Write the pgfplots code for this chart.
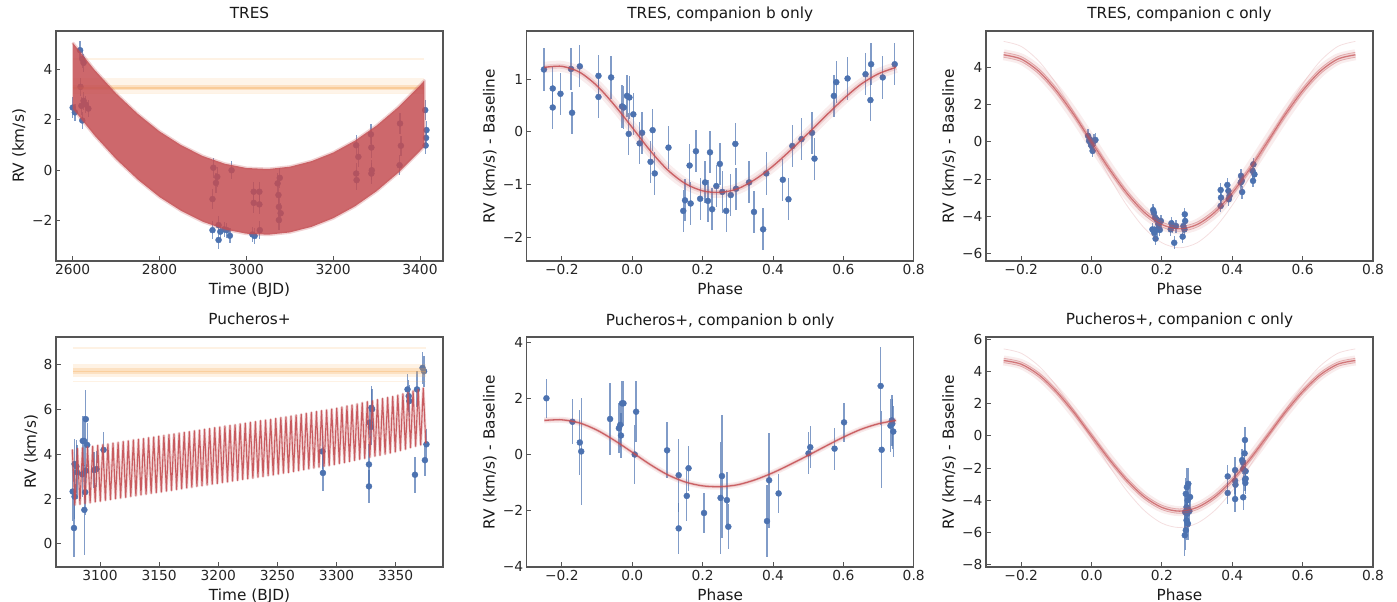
\documentclass[border=0pt]{standalone}
\usepackage{fontspec}
\setmainfont{DejaVu Sans}
\usepackage{pgfplots}
\usepackage{pgfplotstable}
\pgfplotsset{compat=1.18}

\definecolor{dblue}{RGB}{76,114,176}
\definecolor{dred}{RGB}{196,78,82}
\definecolor{dorange}{RGB}{245,165,75}
\definecolor{fgray}{RGB}{85,85,85}

\newcommand{\ticksize}{\fontsize{13.8}{16}\selectfont}
\newcommand{\labsize}{\fontsize{15.3}{18}\selectfont}

\pgfplotsset{
 rv/.style={
  scale only axis, width=387pt, height=230pt, anchor=south west,
  clip marker paths=true,
  axis line style={fgray, line width=1.1pt},
  tick align=inside, tick pos=left,
  major tick length=4.5pt,
  every tick/.style={fgray, line width=0.9pt},
  tick label style={font=\ticksize, text=black!85},
  title style={font=\labsize, text=black!90, at={(axis description cs:0.5,1)}, anchor=base, yshift=6pt},
  xlabel style={font=\labsize, text=black!90, at={(axis description cs:0.5,0)}, anchor=base, yshift=-33.5pt},
  ylabel style={font=\labsize, text=black!90, at={(axis description cs:-0.083,0.5)}, anchor=base},
  scaled ticks=false,
 },
 pts/.style={only marks, mark=*, mark size=3pt, color=dblue, mark options={fill=dblue, draw=dblue},
   error bars/.cd, y dir=both, y explicit, error mark=none,
   error bar style={line width=1.3pt, color=dblue, opacity=0.7}},
}

% ---------------- TRES time series ----------------
\pgfplotstableread[row sep=\\]{
t v e\\
2600 2.48 0.40\\
2605 2.29 0.35\\
2617 4.75 0.35\\
2622 4.40 0.35\\
2625 4.25 0.35\\
2618 3.30 0.35\\
2620 2.55 0.35\\
2622 1.97 0.35\\
2625 2.75 0.35\\
2630 2.60 0.35\\
2636 2.44 0.35\\
2922 -2.37 0.35\\
2936 -2.17 0.35\\
2936 -2.76 0.35\\
2940 -2.43 0.35\\
2949 -2.34 0.30\\
2955 -2.37 0.30\\
2962 -2.59 0.30\\
2924 0.10 0.40\\
2933 -0.26 0.40\\
2930 -0.50 0.40\\
2922 -1.14 0.40\\
2966 0.00 0.35\\
3014 -2.54 0.30\\
3019 -2.60 0.30\\
3017 -1.29 0.40\\
3017 -0.85 0.40\\
3030 -0.85 0.40\\
3030 -1.35 0.40\\
3031 -2.37 0.35\\
3072 -0.52 0.40\\
3074 -0.98 0.40\\
3077 -0.30 0.40\\
3075 -1.45 0.40\\
3079 -1.70 0.40\\
3075 -1.97 0.40\\
3253 0.99 0.40\\
3258 0.53 0.40\\
3253 -0.13 0.40\\
3254 -0.39 0.40\\
3287 1.42 0.40\\
3288 0.90 0.40\\
3289 0.00 0.40\\
3288 -0.13 0.40\\
3354 1.85 0.40\\
3356 0.97 0.40\\
3353 0.20 0.40\\
3412 2.38 0.40\\
3415 1.59 0.35\\
3414 1.28 0.35\\
3413 0.98 0.35\\
}\tresdata

% ---------------- Pucheros time series ----------------
\pgfplotstableread[row sep=\\]{
t v e\\
3076.9 2.33 1.30\\
3078.0 0.70 1.30\\
3078.5 3.56 1.10\\
3080.0 3.45 1.20\\
3080.5 3.19 1.20\\
3078.5 2.10 1.00\\
3085.4 4.59 1.10\\
3086.5 4.59 1.10\\
3085.0 3.10 1.00\\
3086.8 1.51 2.00\\
3088.0 5.56 1.30\\
3089.2 4.41 1.00\\
3087.5 2.30 1.00\\
3088.0 3.26 1.00\\
3095.0 3.29 0.80\\
3097.0 3.33 0.80\\
3103.0 4.19 0.80\\
3288.0 4.12 0.80\\
3288.5 3.16 0.80\\
3327.4 3.54 0.90\\
3327.4 2.56 0.75\\
3328.0 5.41 0.70\\
3329.0 5.21 0.80\\
3329.5 6.07 0.95\\
3330.0 6.00 0.90\\
3360.0 6.89 0.70\\
3361.0 6.59 0.70\\
3361.5 6.37 0.70\\
3366.3 3.08 0.80\\
3368.0 6.89 0.80\\
3372.7 7.85 0.70\\
3374.0 7.70 0.70\\
3374.7 3.73 0.70\\
3376.0 4.44 0.70\\
}\pucdata

\pgfplotstableread[row sep=\\]{
t v\\
3076.60 4.21\\ 3078.75 1.73\\ 3080.90 4.25\\ 3083.05 1.76\\ 3085.20 4.28\\
3087.35 1.80\\ 3089.50 4.32\\ 3091.65 1.83\\ 3093.80 4.35\\ 3095.95 1.87\\
3098.10 4.39\\ 3100.25 1.90\\ 3102.40 4.42\\ 3104.55 1.94\\ 3106.70 4.45\\
3108.85 1.97\\ 3111.00 4.49\\ 3113.15 2.01\\ 3115.30 4.52\\ 3117.45 2.04\\
3119.60 4.56\\ 3121.75 2.07\\ 3123.90 4.59\\ 3126.05 2.11\\ 3128.20 4.63\\
3130.35 2.14\\ 3132.50 4.66\\ 3134.65 2.18\\ 3136.80 4.69\\ 3138.95 2.21\\
3141.10 4.73\\ 3143.25 2.25\\ 3145.40 4.76\\ 3147.55 2.28\\ 3149.70 4.80\\
3151.85 2.31\\ 3154.00 4.83\\ 3156.15 2.35\\ 3158.30 4.87\\ 3160.45 2.38\\
3162.60 4.90\\ 3164.75 2.42\\ 3166.90 4.94\\ 3169.05 2.45\\ 3171.20 4.97\\
3173.35 2.49\\ 3175.50 5.00\\ 3177.65 2.52\\ 3179.80 5.04\\ 3181.95 2.56\\
3184.10 5.07\\ 3186.25 2.59\\ 3188.40 5.11\\ 3190.55 2.62\\ 3192.70 5.14\\
3194.85 2.66\\ 3197.00 5.18\\ 3199.15 2.69\\ 3201.30 5.21\\ 3203.45 2.73\\
3205.60 5.25\\ 3207.75 2.76\\ 3209.90 5.28\\ 3212.05 2.80\\ 3214.20 5.31\\
3216.35 2.83\\ 3218.50 5.35\\ 3220.65 2.87\\ 3222.80 5.38\\ 3224.95 2.90\\
3227.10 5.42\\ 3229.25 2.93\\ 3231.40 5.45\\ 3233.55 2.97\\ 3235.70 5.49\\
3237.85 3.00\\ 3240.00 5.52\\ 3242.15 3.04\\ 3244.30 5.55\\ 3246.45 3.07\\
3248.60 5.59\\ 3250.75 3.11\\ 3252.90 5.63\\ 3255.05 3.15\\ 3257.20 5.66\\
3259.35 3.18\\ 3261.50 5.70\\ 3263.65 3.22\\ 3265.80 5.74\\ 3267.95 3.26\\
3270.10 5.78\\ 3272.25 3.30\\ 3274.40 5.82\\ 3276.55 3.34\\ 3278.70 5.86\\
3280.85 3.38\\ 3283.00 5.90\\ 3285.15 3.42\\ 3287.30 5.94\\ 3289.45 3.46\\
3291.60 5.97\\ 3293.75 3.49\\ 3295.90 6.01\\ 3298.05 3.53\\ 3300.20 6.05\\
3302.35 3.58\\ 3304.50 6.10\\ 3306.65 3.62\\ 3308.80 6.15\\ 3310.95 3.67\\
3313.10 6.19\\ 3315.25 3.72\\ 3317.40 6.24\\ 3319.55 3.77\\ 3321.70 6.29\\
3323.85 3.81\\ 3326.00 6.34\\ 3328.15 3.86\\ 3330.30 6.38\\ 3332.45 3.91\\
3334.60 6.43\\ 3336.75 3.95\\ 3338.90 6.48\\ 3341.05 4.00\\ 3343.20 6.53\\
3345.35 4.05\\ 3347.50 6.57\\ 3349.65 4.10\\ 3351.80 6.63\\ 3353.95 4.16\\
3356.10 6.69\\ 3358.25 4.22\\ 3360.40 6.75\\ 3362.55 4.29\\ 3364.70 6.82\\
3366.85 4.35\\ 3369.00 6.88\\ 3371.15 4.41\\ 3373.30 6.95\\ 3375.45 4.48\\
}\puczz

% ---------------- phase curves ----------------
\pgfplotstableread[row sep=\\]{
p v\\
-0.25 1.22\\ -0.20 1.24\\ -0.15 1.13\\ -0.10 0.87\\ -0.05 0.50\\
0.00 0.08\\ 0.05 -0.35\\ 0.10 -0.72\\ 0.15 -0.98\\ 0.20 -1.12\\
0.25 -1.15\\ 0.30 -1.08\\ 0.35 -0.90\\ 0.40 -0.65\\ 0.45 -0.35\\
0.50 -0.03\\ 0.55 0.30\\ 0.60 0.62\\ 0.65 0.90\\ 0.70 1.10\\ 0.75 1.22\\
}\bcurve

\pgfplotstableread[row sep=\\]{
p v\\
-0.25 4.68\\ -0.20 4.45\\ -0.15 3.79\\ -0.10 2.75\\ -0.05 1.45\\
0.00 0.00\\ 0.05 -1.45\\ 0.10 -2.75\\ 0.15 -3.79\\ 0.20 -4.45\\
0.25 -4.68\\ 0.30 -4.45\\ 0.35 -3.79\\ 0.40 -2.75\\ 0.45 -1.45\\
0.50 0.00\\ 0.55 1.45\\ 0.60 2.75\\ 0.65 3.79\\ 0.70 4.45\\ 0.75 4.68\\
}\ccurve

\pgfplotstableread[row sep=\\]{
p v\\
-0.25 5.40\\ -0.20 5.13\\ -0.15 4.34\\ -0.10 3.11\\ -0.05 1.57\\
0.00 -0.15\\ 0.05 -1.87\\ 0.10 -3.41\\ 0.15 -4.64\\ 0.20 -5.43\\
0.25 -5.70\\ 0.30 -5.43\\ 0.35 -4.64\\ 0.40 -3.41\\ 0.45 -1.87\\
0.50 -0.15\\ 0.55 1.57\\ 0.60 3.11\\ 0.65 4.34\\ 0.70 5.13\\ 0.75 5.40\\
}\cfaint

% ---------------- phase data ----------------
\pgfplotstableread[row sep=\\]{
p v e\\
-0.251 1.18 0.40\\
-0.226 0.82 0.40\\
-0.226 0.46 0.40\\
-0.204 0.72 0.40\\
-0.174 1.19 0.40\\
-0.171 0.36 0.40\\
-0.149 1.24 0.40\\
-0.096 1.06 0.40\\
-0.096 0.66 0.40\\
-0.060 1.03 0.40\\
-0.029 0.48 0.40\\
-0.024 0.46 0.40\\
-0.015 0.68 0.40\\
-0.008 0.65 0.40\\
-0.010 -0.04 0.40\\
0.003 0.33 0.40\\
0.021 -0.22 0.40\\
0.028 -0.02 0.40\\
0.052 -0.57 0.40\\
0.058 0.03 0.40\\
0.064 -0.79 0.40\\
0.103 -0.30 0.40\\
0.145 -1.50 0.40\\
0.150 -1.30 0.40\\
0.163 -0.64 0.40\\
0.166 -1.36 0.40\\
0.181 -0.37 0.40\\
0.193 -1.27 0.40\\
0.207 -0.96 0.40\\
0.215 -1.31 0.40\\
0.221 -0.39 0.40\\
0.227 -1.47 0.40\\
0.239 -1.03 0.40\\
0.249 -0.61 0.40\\
0.256 -1.14 0.40\\
0.267 -1.50 0.40\\
0.280 -1.20 0.40\\
0.293 -0.23 0.40\\
0.295 -1.08 0.40\\
0.332 -0.96 0.40\\
0.346 -1.52 0.40\\
0.372 -1.85 0.40\\
0.381 -0.79 0.40\\
0.428 -0.91 0.40\\
0.444 -1.28 0.40\\
0.455 -0.27 0.40\\
0.481 -0.14 0.40\\
0.511 -0.02 0.40\\
0.518 -0.51 0.40\\
0.573 0.68 0.40\\
0.580 0.94 0.40\\
0.612 1.01 0.40\\
0.663 1.09 0.40\\
0.677 0.60 0.40\\
0.679 1.28 0.40\\
0.712 1.03 0.40\\
0.746 1.28 0.40\\
}\tresb

\pgfplotstableread[row sep=\\]{
p v e\\
-0.010 0.32 0.35\\
-0.005 0.14 0.35\\
0.000 -0.22 0.35\\
0.003 -0.49 0.35\\
-0.007 0.05 0.35\\
0.007 0.05 0.35\\
0.011 0.10 0.35\\
-0.002 -0.08 0.35\\
0.175 -3.67 0.35\\
0.177 -3.81 0.35\\
0.181 -4.08 0.35\\
0.173 -4.71 0.35\\
0.178 -4.89 0.35\\
0.182 -5.21 0.35\\
0.186 -4.71 0.35\\
0.190 -4.44 0.35\\
0.194 -4.74 0.35\\
0.197 -4.26 0.35\\
0.185 -4.17 0.35\\
0.225 -4.71 0.35\\
0.230 -4.53 0.35\\
0.235 -5.43 0.35\\
0.240 -4.53 0.35\\
0.227 -4.38 0.35\\
0.259 -5.10 0.35\\
0.264 -4.71 0.35\\
0.266 -4.26 0.35\\
0.265 -3.90 0.35\\
0.261 -4.53 0.35\\
0.367 -2.59 0.35\\
0.368 -3.00 0.35\\
0.367 -3.45 0.35\\
0.386 -2.32 0.35\\
0.389 -2.64 0.35\\
0.390 -3.09 0.35\\
0.392 -2.91 0.35\\
0.425 -1.83 0.35\\
0.427 -2.10 0.35\\
0.428 -2.70 0.35\\
0.424 -2.19 0.35\\
0.460 -1.21 0.35\\
0.458 -1.57 0.35\\
0.463 -1.75 0.35\\
0.459 -2.10 0.35\\
}\tresc

\pgfplotstableread[row sep=\\]{
p v e\\
-0.244 2.01 0.70\\
-0.170 1.17 0.80\\
-0.149 0.43 1.15\\
-0.145 0.11 1.90\\
-0.063 1.27 1.30\\
-0.038 0.94 0.90\\
-0.034 1.06 0.80\\
-0.032 0.68 0.80\\
-0.029 1.83 0.80\\
-0.025 1.83 0.80\\
0.007 0.00 1.05\\
0.011 1.53 1.10\\
0.099 0.15 1.00\\
0.132 -0.74 1.30\\
0.132 -2.64 0.90\\
0.155 -1.48 0.90\\
0.160 -0.49 0.80\\
0.204 -2.09 0.70\\
0.251 -1.55 2.00\\
0.255 -0.77 2.20\\
0.269 -1.63 1.00\\
0.273 -2.58 0.80\\
0.383 -2.38 1.30\\
0.389 -0.92 1.70\\
0.416 -1.39 0.70\\
0.501 0.04 0.75\\
0.506 0.26 0.75\\
0.575 0.21 0.75\\
0.602 1.15 0.70\\
0.706 2.45 1.38\\
0.709 0.17 1.37\\
0.734 1.03 0.95\\
0.738 1.22 0.90\\
0.742 0.82 0.90\\
0.739 1.10 0.90\\
}\pucb

\pgfplotstableread[row sep=\\]{
p v e\\
0.265 -6.18 1.30\\
0.268 -5.87 1.20\\
0.270 -5.25 1.20\\
0.272 -4.84 1.00\\
0.270 -4.43 1.00\\
0.273 -4.01 1.00\\
0.268 -3.60 1.00\\
0.271 -3.19 1.20\\
0.275 -2.98 1.00\\
0.280 -3.80 0.90\\
0.278 -4.68 1.00\\
0.266 -4.74 1.00\\
0.274 -5.46 1.00\\
0.387 -2.52 0.70\\
0.387 -3.55 0.70\\
0.408 -2.13 0.80\\
0.408 -2.79 0.80\\
0.409 -3.04 0.80\\
0.408 -3.93 0.80\\
0.428 -1.51 0.70\\
0.430 -1.65 0.70\\
0.435 -1.09 0.70\\
0.436 -0.26 0.80\\
0.431 -2.06 0.70\\
0.436 -2.72 0.70\\
0.437 -2.93 0.70\\
0.438 -2.66 0.70\\
0.431 -3.82 0.80\\
0.438 -2.20 0.70\\
}\pucc

\begin{document}
\begin{tikzpicture}
\useasboundingbox (0,0) rectangle (1397pt,602pt);

% ===== TRES =====
\begin{axis}[rv, at={(56pt,341pt)},
  xmin=2561.5, xmax=3453, ymin=-3.59, ymax=5.51,
  xtick={2600,2800,3000,3200,3400}, xticklabels={2600,2800,3000,3200,3400},
  ytick={-2,0,2,4}, yticklabels={−2,0,2,4},
  title={TRES}, xlabel={Time (BJD)}, ylabel={RV (km/s)}]
\addplot[pts] table[x=t, y=v, y error=e] {\tresdata};
\addplot[dorange, line width=15pt, opacity=0.12] coordinates {(2600,3.36) (3410,3.36)};
\addplot[dorange, line width=5pt, opacity=0.25] coordinates {(2600,3.27) (3410,3.27)};
\addplot[dorange, line width=1.5pt, opacity=0.35] coordinates {(2600,3.25) (3410,3.25)};
\addplot[dorange, line width=1.2pt, opacity=0.15] coordinates {(2600,4.40) (3410,4.40)};
\addplot[dorange, line width=1.2pt, opacity=0.15] coordinates {(2600,3.04) (3410,3.04)};
\addplot[draw=dred, draw opacity=0.25, line width=3pt, line join=round, fill=dred, fill opacity=0.85] coordinates {
 (2600,5.05) (2650,3.98) (2700,3.04) (2750,2.23) (2800,1.54) (2850,0.99) (2900,0.56) (2950,0.26)
 (3000,0.09) (3050,0.05) (3100,0.14) (3150,0.36) (3200,0.70) (3250,1.17) (3300,1.77) (3350,2.50)
 (3400,3.36) (3410,3.55)
 (3410,0.95) (3400,0.76) (3350,-0.10) (3300,-0.83) (3250,-1.43) (3200,-1.90) (3150,-2.24) (3100,-2.46)
 (3050,-2.55) (3000,-2.51) (2950,-2.34) (2900,-2.04) (2850,-1.61) (2800,-1.06) (2750,-0.37) (2700,0.44)
 (2650,1.38) (2600,2.45)};
\end{axis}

% ===== TRES b =====
\begin{axis}[rv, at={(526.7pt,341pt)},
  xmin=-0.3, xmax=0.8, ymin=-2.45, ymax=1.91,
  xtick={-0.2,0,0.2,0.4,0.6,0.8}, xticklabels={−0.2,0.0,0.2,0.4,0.6,0.8},
  ytick={-2,-1,0,1}, yticklabels={−2,−1,0,1},
  title={TRES, companion b only}, xlabel={Phase}, ylabel={RV (km/s) - Baseline}]
\addplot[pts] table[x=p, y=v, y error=e] {\tresb};
\addplot[dred, line width=11pt, opacity=0.10, smooth] table[x=p, y=v] {\bcurve};
\addplot[dred, line width=5pt, opacity=0.18, smooth] table[x=p, y=v] {\bcurve};
\addplot[dred, line width=1.4pt, opacity=0.85, smooth] table[x=p, y=v] {\bcurve};
\end{axis}

% ===== TRES c =====
\begin{axis}[rv, at={(986pt,341pt)},
  xmin=-0.3, xmax=0.8, ymin=-6.41, ymax=5.96,
  xtick={-0.2,0,0.2,0.4,0.6,0.8}, xticklabels={−0.2,0.0,0.2,0.4,0.6,0.8},
  ytick={-6,-4,-2,0,2,4}, yticklabels={−6,−4,−2,0,2,4},
  title={TRES, companion c only}, xlabel={Phase}, ylabel={RV (km/s) - Baseline}]
\addplot[pts] table[x=p, y=v, y error=e] {\tresc};
\addplot[dred, line width=0.8pt, opacity=0.18, smooth] table[x=p, y=v] {\cfaint};
\addplot[dred, line width=11pt, opacity=0.10, smooth] table[x=p, y=v] {\ccurve};
\addplot[dred, line width=5pt, opacity=0.15, smooth] table[x=p, y=v] {\ccurve};
\addplot[dred, line width=0.8pt, opacity=0.35, smooth, yshift=2.5pt] table[x=p, y=v] {\ccurve};
\addplot[dred, line width=0.8pt, opacity=0.35, smooth, yshift=-2.5pt] table[x=p, y=v] {\ccurve};
\addplot[dred, line width=1.3pt, opacity=0.7, smooth] table[x=p, y=v] {\ccurve};
\end{axis}

% ===== Pucheros+ =====
\begin{axis}[rv, at={(56pt,35pt)},
  xmin=3062.8, xmax=3390, ymin=-1.04, ymax=9.23,
  xtick={3100,3150,3200,3250,3300,3350}, xticklabels={3100,3150,3200,3250,3300,3350},
  ytick={0,2,4,6,8}, yticklabels={0,2,4,6,8},
  ylabel style={at={(axis description cs:-0.0517,0.5)}},
  title={Pucheros+}, xlabel={Time (BJD)}, ylabel={RV (km/s)}]
\addplot[pts] table[x=t, y=v, y error=e] {\pucdata};
\addplot[dorange, line width=13pt, opacity=0.15] coordinates {(3077,7.73) (3376,7.73)};
\addplot[dorange, line width=6pt, opacity=0.22] coordinates {(3077,7.72) (3376,7.72)};
\addplot[dorange, line width=1.5pt, opacity=0.3] coordinates {(3077,7.68) (3376,7.68)};
\addplot[dorange, line width=1.2pt, opacity=0.15] coordinates {(3077,8.74) (3376,8.74)};
\addplot[dorange, line width=1.2pt, opacity=0.15] coordinates {(3077,7.26) (3376,7.26)};
\addplot[dred, line width=2.8pt, opacity=0.25, line join=round] table[x=t, y=v] {\puczz};
\addplot[dred, line width=1.1pt, opacity=0.9, line join=round] table[x=t, y=v] {\puczz};
\end{axis}

% ===== Pucheros+ b =====
\begin{axis}[rv, at={(526.7pt,35pt)},
  xmin=-0.3, xmax=0.8, ymin=-4.02, ymax=4.2,
  xtick={-0.2,0,0.2,0.4,0.6,0.8}, xticklabels={−0.2,0.0,0.2,0.4,0.6,0.8},
  ytick={-4,-2,0,2,4}, yticklabels={−4,−2,0,2,4},
  title={Pucheros+, companion b only}, xlabel={Phase}, ylabel={RV (km/s) - Baseline}]
\addplot[pts] table[x=p, y=v, y error=e] {\pucb};
\addplot[dred, line width=6pt, opacity=0.12, smooth] table[x=p, y=v] {\bcurve};
\addplot[dred, line width=3pt, opacity=0.18, smooth] table[x=p, y=v] {\bcurve};
\addplot[dred, line width=1.3pt, opacity=0.85, smooth] table[x=p, y=v] {\bcurve};
\end{axis}

% ===== Pucheros+ c =====
\begin{axis}[rv, at={(986pt,35pt)},
  xmin=-0.3, xmax=0.8, ymin=-8.15, ymax=6.14,
  xtick={-0.2,0,0.2,0.4,0.6,0.8}, xticklabels={−0.2,0.0,0.2,0.4,0.6,0.8},
  ytick={-8,-6,-4,-2,0,2,4,6}, yticklabels={−8,−6,−4,−2,0,2,4,6},
  title={Pucheros+, companion c only}, xlabel={Phase}, ylabel={RV (km/s) - Baseline}]
\addplot[pts] table[x=p, y=v, y error=e] {\pucc};
\addplot[dred, line width=0.8pt, opacity=0.18, smooth] table[x=p, y=v] {\cfaint};
\addplot[dred, line width=10pt, opacity=0.10, smooth] table[x=p, y=v] {\ccurve};
\addplot[dred, line width=4.5pt, opacity=0.15, smooth] table[x=p, y=v] {\ccurve};
\addplot[dred, line width=0.8pt, opacity=0.35, smooth, yshift=2.2pt] table[x=p, y=v] {\ccurve};
\addplot[dred, line width=0.8pt, opacity=0.35, smooth, yshift=-2.2pt] table[x=p, y=v] {\ccurve};
\addplot[dred, line width=1.3pt, opacity=0.7, smooth] table[x=p, y=v] {\ccurve};
\end{axis}
\end{tikzpicture}
\end{document}
